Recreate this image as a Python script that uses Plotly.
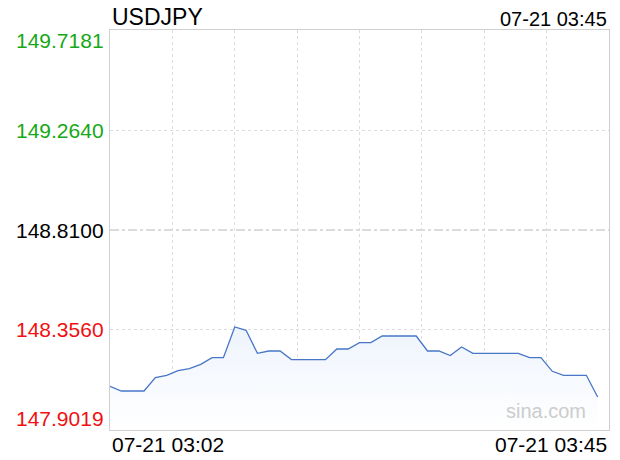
import plotly.graph_objects as go

symbol = "USDJPY"
stamp = "07-21 03:45"
day = "2023-07-21"
minutes = ["03:02", "03:03", "03:04", "03:05", "03:06", "03:07", "03:08", "03:09", "03:10", "03:11",
           "03:12", "03:13", "03:14", "03:15", "03:16", "03:17", "03:18", "03:19", "03:20", "03:21",
           "03:22", "03:23", "03:24", "03:25", "03:26", "03:27", "03:28", "03:29", "03:30", "03:31",
           "03:32", "03:33", "03:34", "03:35", "03:36", "03:37", "03:38", "03:39", "03:40", "03:41",
           "03:42", "03:43", "03:44", "03:45"]
prices = [148.1003, 148.0790, 148.0790, 148.0790, 148.1398, 148.1503, 148.1716, 148.1807, 148.2002, 148.2306,
          148.2306, 148.3696, 148.3546, 148.2501, 148.2606, 148.2606, 148.2215, 148.2215, 148.2215, 148.2215,
          148.2697, 148.2697, 148.2987, 148.2987, 148.3287, 148.3287, 148.3287, 148.3287, 148.2606, 148.2606,
          148.2397, 148.2788, 148.2501, 148.2501, 148.2501, 148.2501, 148.2501, 148.2306, 148.2306, 148.1684,
          148.1503, 148.1503, 148.1503, 148.0517]
y_labels = ["149.7181", "149.2640", "148.8100", "148.3560", "147.9019"]
y_values = [149.7181, 149.2640, 148.8100, 148.3560, 147.9019]
y_colors = ["#16a816", "#16a816", "#000000", "#f01010", "#f01010"]
x_start = day + " 03:02"
x_end = day + " 03:46"

xs = [day + " " + m for m in minutes]
ymin, ymax = y_values[-1], y_values[0]

fig = go.Figure()
fig.add_trace(go.Scatter(x=xs, y=[ymin] * len(xs), mode="lines", line=dict(width=0),
                         hoverinfo="skip", showlegend=False))
fig.add_trace(go.Scatter(x=xs, y=prices, mode="lines", fill="tonexty",
                         fillgradient=dict(type="vertical",
                                           colorscale=[[0, "rgba(255,255,255,1)"], [1, "rgba(238,244,253,1)"]]),
                         line=dict(color="#4775c8", width=1.3), showlegend=False))

fig.add_shape(type="line", xref="paper", yref="y", x0=0, x1=1, y0=y_values[2], y1=y_values[2],
              line=dict(color="#b8b8b8", width=1, dash="dashdot"), layer="below")

font = "Liberation Sans, Arial, sans-serif"
ann = []
ypos = [ymax, y_values[1], y_values[2], y_values[3], ymin]
yanch = ["top", "middle", "middle", "middle", "bottom"]
for lab, v, c, a in zip(y_labels, ypos, y_colors, yanch):
    ann.append(dict(text=lab, xref="paper", yref="y", x=0, y=v, xanchor="right", yanchor=a,
                    xshift=-4, yshift=(3 if a == "top" else (-2 if a == "bottom" else 0)),
                    showarrow=False, font=dict(family=font, size=21, color=c)))
ann.append(dict(text=symbol, xref="paper", yref="paper", x=0, y=1, xanchor="left", yanchor="bottom",
                yshift=-2, showarrow=False, font=dict(family=font, size=23, color="#000")))
ann.append(dict(text=stamp, xref="paper", yref="paper", x=1, y=1, xanchor="right", yanchor="bottom",
                yshift=-2, showarrow=False, font=dict(family=font, size=20, color="#000")))
ann.append(dict(text="07-21 " + minutes[0], xref="paper", yref="paper", x=0, y=0, xanchor="left",
                yanchor="top", yshift=-1, showarrow=False, font=dict(family=font, size=21, color="#000")))
ann.append(dict(text="07-21 " + minutes[-1], xref="paper", yref="paper", x=1, y=0, xanchor="right",
                yanchor="top", yshift=-1, showarrow=False, font=dict(family=font, size=21, color="#000")))
ann.append(dict(text="sina.com", xref="paper", yref="paper", x=0.957, y=0, xanchor="right",
                yanchor="bottom", yshift=6, showarrow=False, font=dict(family=font, size=20, color="#cccccc")))

fig.update_layout(
    width=620, height=460,
    margin=dict(l=110, r=11, t=30, b=30),
    paper_bgcolor="white", plot_bgcolor="white",
    annotations=ann,
    xaxis=dict(type="date", range=[x_start, x_end], tick0=x_start, dtick=330000,
               showticklabels=False, ticks="", showgrid=True, gridcolor="#dcdcdc", griddash="dot",
               gridwidth=1, showline=True, mirror=True, linecolor="#d0d0d0", linewidth=1, zeroline=False),
    yaxis=dict(range=[ymin, ymax], tickvals=[y_values[1], y_values[3]], showticklabels=False, ticks="",
               showgrid=True, gridcolor="#dcdcdc", griddash="dot", gridwidth=1,
               showline=True, mirror=True, linecolor="#d0d0d0", linewidth=1, zeroline=False),
)

fig.write_html("out.html", config={"displayModeBar": False},
               post_script="document.body.style.margin='0px';document.body.style.overflow='hidden';")
